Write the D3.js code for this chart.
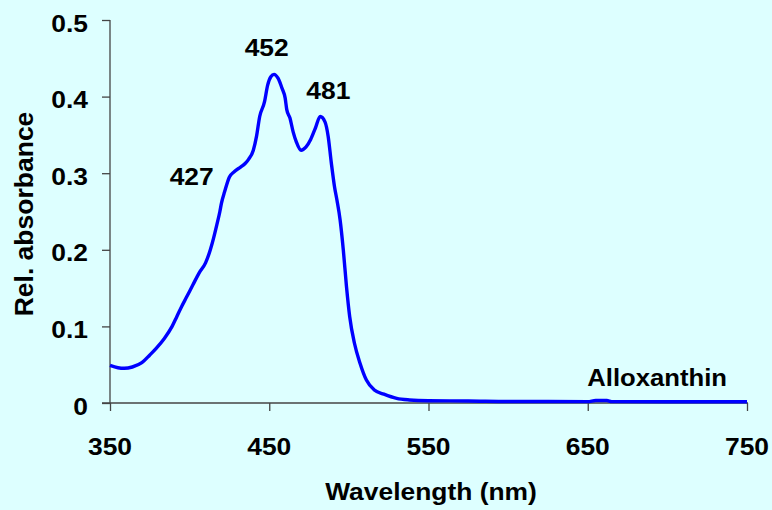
<!DOCTYPE html>
<html>
<head>
<meta charset="utf-8">
<script src="https://cdn.jsdelivr.net/npm/d3@7"></script>
<style>
  html, body { margin: 0; padding: 0; background: #DDFFFF; }
  svg { display: block; }
  text { font-family: "Liberation Sans", Arial, sans-serif; font-weight: bold; fill: #000; }
</style>
</head>
<body>
<svg id="chart" width="772" height="510"></svg>
<script>
// Absorption spectrum of alloxanthin
const wavelengths = [350, 355, 359, 364, 370, 375, 379, 384, 389, 392, 395, 398, 402, 406, 410, 413, 415, 417, 419, 420, 422, 425, 428, 432, 435, 437, 440, 442, 444, 447, 449, 451, 453, 455.5, 458, 460, 461, 463, 465, 467, 470, 473, 476, 479, 482, 485, 487, 489, 491, 492.5, 494.5, 496.5, 498.5, 500.5, 503.5, 507, 511, 516, 522, 530, 538, 550, 575, 600, 625, 650, 655, 662, 665, 700, 750];
const absorbance = [0.049, 0.046, 0.0453, 0.047, 0.0526, 0.0627, 0.0714, 0.084, 0.100, 0.113, 0.126, 0.138, 0.154, 0.170, 0.183, 0.200, 0.215, 0.232, 0.250, 0.261, 0.276, 0.295, 0.302, 0.308, 0.313, 0.318, 0.330, 0.348, 0.374, 0.393, 0.415, 0.426, 0.429, 0.424, 0.411, 0.398, 0.383, 0.372, 0.354, 0.341, 0.330, 0.334, 0.344, 0.359, 0.374, 0.367, 0.348, 0.313, 0.282, 0.265, 0.239, 0.200, 0.152, 0.113, 0.078, 0.052, 0.030, 0.017, 0.0115, 0.006, 0.004, 0.003, 0.0027, 0.002, 0.0019, 0.0018, 0.0032, 0.0032, 0.0018, 0.0017, 0.0017];

const xTicks = [350, 450, 550, 650, 750];
const yTicks = [0, 0.1, 0.2, 0.3, 0.4, 0.5];

// Peak labels with the wavelength / absorbance of their anchor points
const peakLabels = ["452", "481", "427"];
const peakLabelX = [448.4, 487.1, 401.3];
const peakLabelY = [0.453, 0.397, 0.2846];
const pigmentName = "Alloxanthin";

const W = 772, H = 510;
const margin = { top: 20, right: 25, bottom: 107, left: 110 };
const svg = d3.select("#chart");

svg.append("rect").attr("width", W).attr("height", H).attr("fill", "#DDFFFF");

const x = d3.scaleLinear().domain([350, 750]).range([margin.left, W - margin.right]);
const y = d3.scaleLinear().domain([0, 0.5]).range([H - margin.bottom, margin.top]);

const axisColor = "#444";
const stretch = 1.1;

// y axis
const yAxis = svg.append("g").attr("transform", `translate(${margin.left},0)`)
  .call(d3.axisLeft(y).tickValues(yTicks).tickSize(8).tickFormat(""));
yAxis.select(".domain").remove();
yAxis.append("line").attr("x1", 0).attr("x2", 0)
  .attr("y1", y(0.5)).attr("y2", y(0)).attr("stroke", axisColor).attr("stroke-width", 1.3);
yAxis.selectAll(".tick line").attr("stroke", axisColor).attr("stroke-width", 1.3);

svg.append("g").selectAll("text").data(yTicks).join("text")
  .attr("transform", d => `translate(${margin.left - 22},${y(d) + 11.5}) scale(${stretch},1)`)
  .attr("text-anchor", "end")
  .attr("font-size", 24)
  .text(d => d === 0 ? "0" : d3.format(".1f")(d));

// x axis
const xAxis = svg.append("g").attr("transform", `translate(0,${y(0)})`)
  .call(d3.axisBottom(x).tickValues(xTicks).tickSize(8).tickFormat(""));
xAxis.select(".domain").remove();
xAxis.append("line").attr("x1", margin.left - 8).attr("x2", x(750) + 1)
  .attr("y1", 0).attr("y2", 0).attr("stroke", axisColor).attr("stroke-width", 1.3);
xAxis.selectAll(".tick line").attr("stroke", axisColor).attr("stroke-width", 1.3);

svg.append("g").selectAll("text").data(xTicks).join("text")
  .attr("transform", d => `translate(${x(d)},${y(0) + 51.5}) scale(${stretch},1)`)
  .attr("text-anchor", "middle")
  .attr("font-size", 24)
  .text(d => d);

// axis titles
svg.append("text")
  .attr("transform", `translate(431,500) scale(${stretch},1)`)
  .attr("text-anchor", "middle")
  .attr("font-size", 24)
  .text("Wavelength (nm)");

svg.append("text")
  .attr("transform", `translate(32.5,214) rotate(-90)`)
  .attr("text-anchor", "middle")
  .attr("font-size", 26.5)
  .text("Rel. absorbance");

// spectrum
const line = d3.line()
  .x((d, i) => x(wavelengths[i]))
  .y(d => y(d))
  .curve(d3.curveMonotoneX);

svg.append("path")
  .datum(absorbance)
  .attr("d", line)
  .attr("fill", "none")
  .attr("stroke", "#0000FF")
  .attr("stroke-width", 3.4)
  .attr("stroke-linejoin", "round");

// peak labels
svg.append("g").selectAll("text").data(peakLabels).join("text")
  .attr("transform", (d, i) => `translate(${x(peakLabelX[i])},${y(peakLabelY[i])}) scale(${stretch},1)`)
  .attr("text-anchor", "middle")
  .attr("font-size", 24)
  .text(d => d);

svg.append("text")
  .attr("transform", `translate(${x(649.7)},${y(0.022)}) scale(1.07,1)`)
  .attr("text-anchor", "start")
  .attr("font-size", 24)
  .text(pigmentName);
</script>
</body>
</html>
